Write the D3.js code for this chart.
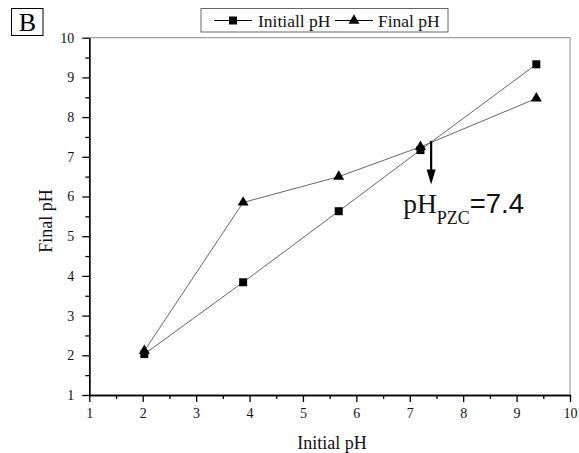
<!DOCTYPE html>
<html>
<head>
<meta charset="utf-8">
<script src="https://cdn.jsdelivr.net/npm/d3@7"></script>
<style>
  body { margin: 0; background: #fff; }
  svg { display: block; font-family: "Liberation Serif", "Times New Roman", serif; }
  .axis path, .axis line { stroke: #000; stroke-width: 1.3; }
  .axis text { font-size: 14px; fill: #111; }
  .xylabels { font-size: 18px; fill: #111; }
  .line { fill: none; stroke: #666; stroke-width: 1; }
</style>
</head>
<body>
<script>

// data
var initialPh = [2.03, 3.88, 5.67, 7.2, 9.37];
var seriesInitial = [2.03, 3.84, 5.63, 7.17, 9.33];
var seriesFinal = [2.11, 5.85, 6.5, 7.25, 8.47];
var seriesNames = ["Initiall pH", "Final pH"];
var tickValues = [1, 2, 3, 4, 5, 6, 7, 8, 9, 10];
var minorTicks = [1.5, 2.5, 3.5, 4.5, 5.5, 6.5, 7.5, 8.5, 9.5];
var pzc = 7.4, arrowTop = 7.4, arrowTip = 6.3;

//setting dimensions
var width = 579, height = 453,
    plot = {left: 89.3, right: 570, top: 37.7, bottom: 395};

var svg = d3.select("body").append("svg")
    .attr("width", width)
    .attr("height", height);

//setting ranges
var x = d3.scaleLinear().domain([1, 10]).range([plot.left, plot.right]);
var y = d3.scaleLinear().domain([1, 10]).range([plot.bottom, plot.top]);

// frame on top and right
svg.append("path")
    .attr("d", "M" + plot.left + "," + plot.top + "H" + plot.right + "V" + plot.bottom)
    .attr("fill", "none")
    .attr("stroke", "#888")
    .attr("stroke-width", 1);

// minor ticks
svg.append("g")
    .attr("class", "axis")
    .attr("transform", "translate(0," + plot.bottom + ")")
    .call(d3.axisBottom(x).tickValues(minorTicks).tickSize(4).tickSizeOuter(0).tickFormat(""));
svg.append("g")
    .attr("class", "axis")
    .attr("transform", "translate(" + plot.left + ",0)")
    .call(d3.axisLeft(y).tickValues(minorTicks).tickSize(4).tickSizeOuter(0).tickFormat(""));

// Add the X Axis
svg.append("g")
    .attr("class", "axis")
    .attr("transform", "translate(0," + plot.bottom + ")")
    .call(d3.axisBottom(x).tickValues(tickValues).tickSize(7).tickSizeOuter(0).tickPadding(6)
            .tickFormat(d3.format("d")));

// Add the Y Axis
svg.append("g")
    .attr("class", "axis")
    .attr("transform", "translate(" + plot.left + ",0)")
    .call(d3.axisLeft(y).tickValues(tickValues).tickSize(7).tickSizeOuter(0).tickPadding(8)
            .tickFormat(d3.format("d")));

svg.selectAll(".axis text").style("font-family", "Liberation Serif");

// lines
var line = d3.line()
    .x(function(d) { return x(d[0]); })
    .y(function(d) { return y(d[1]); });

var ptsInitial = initialPh.map(function(v, i) { return [v, seriesInitial[i]]; });
var ptsFinal = initialPh.map(function(v, i) { return [v, seriesFinal[i]]; });

svg.append("path").datum(ptsFinal).attr("class", "line").attr("d", line);
svg.append("path").datum(ptsInitial).attr("class", "line").attr("d", line);

var square = d3.symbol().type(d3.symbolSquare).size(64);
var triangle = d3.symbol().type(d3.symbolTriangle).size(52);

svg.selectAll(".sq").data(ptsInitial).enter().append("path")
    .attr("class", "sq")
    .attr("d", square)
    .attr("transform", function(d) { return "translate(" + x(d[0]) + "," + y(d[1]) + ")"; });

svg.selectAll(".tri").data(ptsFinal).enter().append("path")
    .attr("class", "tri")
    .attr("d", triangle)
    .attr("transform", function(d) { return "translate(" + x(d[0]) + "," + y(d[1]) + ")"; });

// pzc arrow
var ax = x(pzc), ay0 = y(arrowTop), ay1 = y(arrowTip);
svg.append("line")
    .attr("x1", ax).attr("x2", ax)
    .attr("y1", ay0).attr("y2", ay1 - 12)
    .attr("stroke", "#000")
    .attr("stroke-width", 2.2);
svg.append("path")
    .attr("d", "M" + (ax - 4.5) + "," + (ay1 - 15) + "L" + (ax + 4.5) + "," + (ay1 - 15) + "L" + ax + "," + ay1 + "Z")
    .attr("fill", "#000");

var pz = svg.append("text")
    .attr("x", ax - 28)
    .attr("y", 213)
    .style("font-size", "27.5px")
    .attr("fill", "#111");
pz.append("tspan").text("pH");
pz.append("tspan").attr("dy", 11).style("font-size", "18px").text("PZC");
pz.append("tspan").attr("dy", -11).style("font-family", "Liberation Sans").text("=7.4");

// legend
svg.append("rect")
    .attr("x", 201).attr("y", 8.5)
    .attr("width", 247).attr("height", 23.5)
    .attr("fill", "#fff")
    .attr("stroke", "#666")
    .attr("stroke-width", 1);

var legend = [
  {name: seriesNames[0], sym: square, x0: 214, x1: 252, tx: 258},
  {name: seriesNames[1], sym: triangle, x0: 335, x1: 373, tx: 378}
];
legend.forEach(function(l) {
  svg.append("line")
      .attr("x1", l.x0).attr("x2", l.x1)
      .attr("y1", 20.5).attr("y2", 20.5)
      .attr("stroke", "#000").attr("stroke-width", 1);
  svg.append("path")
      .attr("d", l.sym)
      .attr("transform", "translate(" + ((l.x0 + l.x1) / 2) + ",20.5)");
  svg.append("text")
      .attr("x", l.tx).attr("y", 27)
      .attr("class", "xylabels")
      .style("font-size", "17.5px")
      .text(l.name);
});

// panel letter
svg.append("rect")
    .attr("x", 11.5).attr("y", 8.5)
    .attr("width", 31.5).attr("height", 27)
    .attr("fill", "none")
    .attr("stroke", "#000")
    .attr("stroke-width", 1);
svg.append("text")
    .attr("x", 27.5).attr("y", 30.5)
    .style("text-anchor", "middle")
    .style("font-size", "26px")
    .text("B");

// text label for the x axis
svg.append("text")
    .attr("x", 332).attr("y", 449)
    .attr("class", "xylabels")
    .style("text-anchor", "middle")
    .text("Initial pH");

// text label for the y axis
svg.append("text")
    .attr("transform", "translate(52,221) rotate(-90)")
    .attr("class", "xylabels")
    .style("text-anchor", "middle")
    .text("Final pH");

</script>
</body>
</html>
